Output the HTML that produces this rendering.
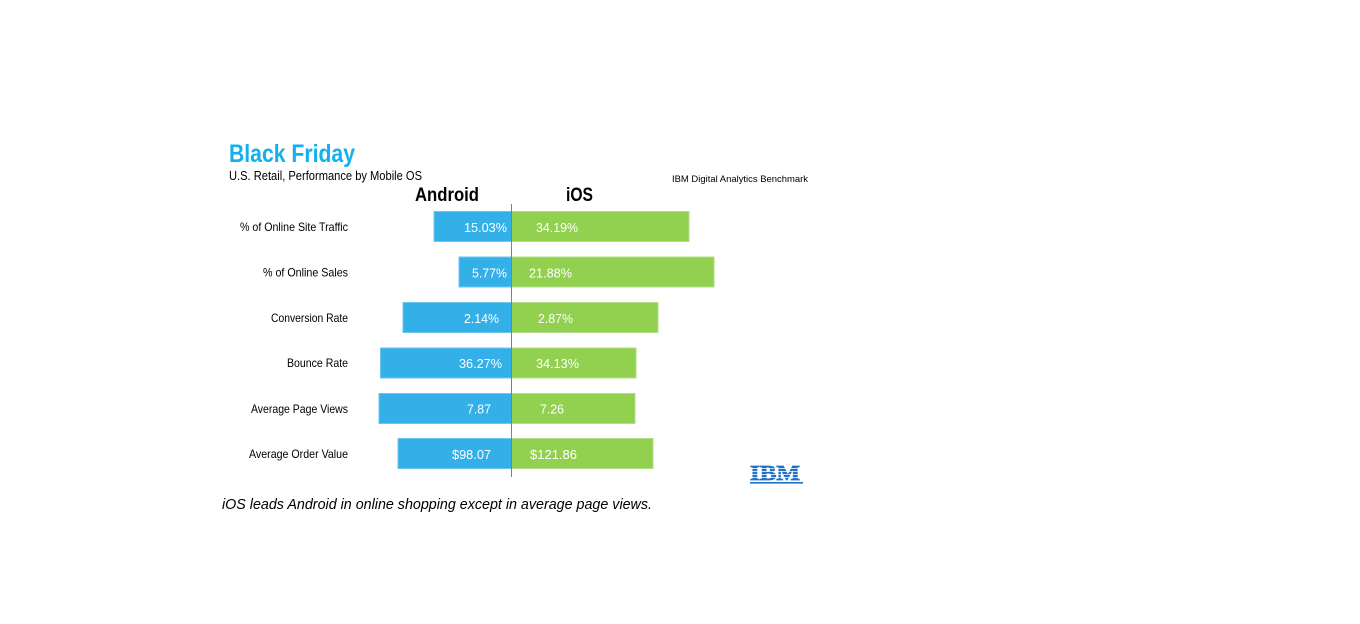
<!DOCTYPE html>
<html>
<head>
<meta charset="utf-8">
<style>
  html,body{margin:0;padding:0;background:#ffffff;}
  body{width:1360px;height:624px;overflow:hidden;}
  svg{display:block;}
  .lbl{font-family:"Liberation Sans",sans-serif;font-size:12px;fill:#000;}
  .val{font-family:"Liberation Sans",sans-serif;font-size:12.5px;fill:#ffffff;}
</style>
</head>
<body>
<svg width="1360" height="624" viewBox="0 0 1360 624" xmlns="http://www.w3.org/2000/svg">
  <rect x="0" y="0" width="1360" height="624" fill="#ffffff"/>

  <!-- Title -->
  <text x="229" y="162" font-family="Liberation Sans, sans-serif" font-weight="bold" font-size="25" fill="#12b0ee" textLength="126" lengthAdjust="spacingAndGlyphs">Black Friday</text>
  <text x="229" y="180" font-family="Liberation Sans, sans-serif" font-size="12.5" fill="#000" textLength="193" lengthAdjust="spacingAndGlyphs">U.S. Retail, Performance by Mobile OS</text>
  <text x="672" y="182" font-family="Liberation Sans, sans-serif" font-size="9.5" fill="#000" textLength="136" lengthAdjust="spacingAndGlyphs">IBM Digital Analytics Benchmark</text>

  <!-- Series headers -->
  <text x="415" y="201" font-family="Liberation Sans, sans-serif" font-weight="bold" font-size="19.5" fill="#000" textLength="64" lengthAdjust="spacingAndGlyphs">Android</text>
  <text x="566" y="201" font-family="Liberation Sans, sans-serif" font-weight="bold" font-size="19.5" fill="#000" textLength="27" lengthAdjust="spacingAndGlyphs">iOS</text>

  <!-- Bars -->
  <g stroke-width="1">
    <rect x="434" y="211.5" width="77.5" height="30" fill="#33b0e8" stroke="#6cc6ef"/>
    <rect x="511.5" y="211.5" width="177.5" height="30" fill="#92d050" stroke="#b2df86"/>

    <rect x="459" y="257" width="52.5" height="30" fill="#33b0e8" stroke="#6cc6ef"/>
    <rect x="511.5" y="257" width="202.5" height="30" fill="#92d050" stroke="#b2df86"/>

    <rect x="403" y="302.5" width="108.5" height="30" fill="#33b0e8" stroke="#6cc6ef"/>
    <rect x="511.5" y="302.5" width="146.5" height="30" fill="#92d050" stroke="#b2df86"/>

    <rect x="380.5" y="348" width="131" height="30" fill="#33b0e8" stroke="#6cc6ef"/>
    <rect x="511.5" y="348" width="124.5" height="30" fill="#92d050" stroke="#b2df86"/>

    <rect x="379" y="393.5" width="132.5" height="30" fill="#33b0e8" stroke="#6cc6ef"/>
    <rect x="511.5" y="393.5" width="123.5" height="30" fill="#92d050" stroke="#b2df86"/>

    <rect x="398" y="438.5" width="113.5" height="30" fill="#33b0e8" stroke="#6cc6ef"/>
    <rect x="511.5" y="438.5" width="141.5" height="30" fill="#92d050" stroke="#b2df86"/>
  </g>

  <!-- Axis -->
  <line x1="511.5" y1="204" x2="511.5" y2="477" stroke="#7f7f7f" stroke-width="1"/>

  <!-- Category labels -->
  <text class="lbl" x="240" y="231" textLength="108" lengthAdjust="spacingAndGlyphs">% of Online Site Traffic</text>
  <text class="lbl" x="263" y="276.5" textLength="85" lengthAdjust="spacingAndGlyphs">% of Online Sales</text>
  <text class="lbl" x="271" y="322" textLength="77" lengthAdjust="spacingAndGlyphs">Conversion Rate</text>
  <text class="lbl" x="287" y="367" textLength="61" lengthAdjust="spacingAndGlyphs">Bounce Rate</text>
  <text class="lbl" x="251" y="413" textLength="97" lengthAdjust="spacingAndGlyphs">Average Page Views</text>
  <text class="lbl" x="249" y="458" textLength="99" lengthAdjust="spacingAndGlyphs">Average Order Value</text>

  <!-- Values Android -->
  <text class="val" x="464" y="232" textLength="43" lengthAdjust="spacingAndGlyphs">15.03%</text>
  <text class="val" x="472" y="277.5" textLength="35" lengthAdjust="spacingAndGlyphs">5.77%</text>
  <text class="val" x="464" y="323" textLength="35" lengthAdjust="spacingAndGlyphs">2.14%</text>
  <text class="val" x="459" y="368" textLength="43" lengthAdjust="spacingAndGlyphs">36.27%</text>
  <text class="val" x="467" y="413.5" textLength="24" lengthAdjust="spacingAndGlyphs">7.87</text>
  <text class="val" x="452" y="459" textLength="39" lengthAdjust="spacingAndGlyphs">$98.07</text>

  <!-- Values iOS -->
  <text class="val" x="536" y="232" textLength="42" lengthAdjust="spacingAndGlyphs">34.19%</text>
  <text class="val" x="529" y="277.5" textLength="43" lengthAdjust="spacingAndGlyphs">21.88%</text>
  <text class="val" x="538" y="323" textLength="35" lengthAdjust="spacingAndGlyphs">2.87%</text>
  <text class="val" x="536" y="368" textLength="43" lengthAdjust="spacingAndGlyphs">34.13%</text>
  <text class="val" x="540" y="413.5" textLength="24" lengthAdjust="spacingAndGlyphs">7.26</text>
  <text class="val" x="530" y="459" textLength="47" lengthAdjust="spacingAndGlyphs">$121.86</text>

  <!-- IBM logo -->
  <g>
    <text x="750" y="480" font-family="Liberation Serif, serif" font-weight="bold" font-size="21" fill="#2370c6" stroke="#2370c6" stroke-width="0.8" textLength="50" lengthAdjust="spacingAndGlyphs">IBM</text>
    <g stroke="#ffffff" stroke-width="0.7">
      <line x1="748" y1="468.5" x2="804" y2="468.5"/>
      <line x1="748" y1="471.5" x2="804" y2="471.5"/>
      <line x1="748" y1="474.5" x2="804" y2="474.5"/>
      <line x1="748" y1="477.5" x2="804" y2="477.5"/>
    </g>
    <rect x="750" y="482" width="53" height="1.6" fill="#2370c6"/>
  </g>

  <!-- Caption -->
  <text x="222" y="509" font-family="Liberation Sans, sans-serif" font-style="italic" font-size="15" fill="#000" textLength="430" lengthAdjust="spacingAndGlyphs">iOS leads Android in online shopping except in average page views.</text>
</svg>
</body>
</html>
